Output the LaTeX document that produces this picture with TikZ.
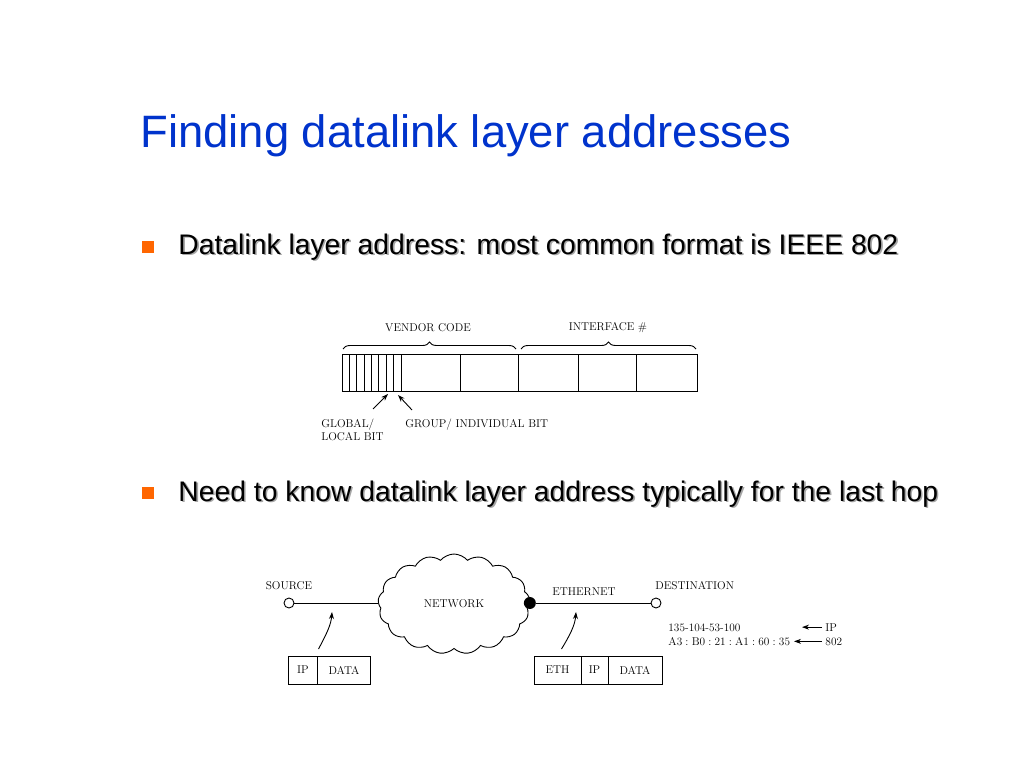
\documentclass[tikz,border=0pt]{standalone}
\usepackage{fontspec}
\newfontfamily\slidefont{Liberation Sans}
\usetikzlibrary{positioning,shapes.symbols,decorations.pathreplacing,arrows.meta}
\definecolor{titleblue}{RGB}{0,51,204}
\definecolor{bulletorange}{RGB}{255,102,0}
\newcommand\shtext[1]{\rlap{\color{black!35}\kern1.6pt\raisebox{-1.6pt}{#1}}#1}
\newcommand\sep{\kern3.2pt:\kern3.2pt}
\begin{document}
\begin{tikzpicture}[x=1pt,y=-1pt,
  line width=0.9pt,
  small/.style={font=\fontsize{11.3}{13}\selectfont,inner sep=0pt},
  bullet/.style={fill=bulletorange,minimum size=12pt,inner sep=0pt},
  bultext/.style={anchor=base west,inner sep=0pt,font=\slidefont\fontsize{28.3}{32}\selectfont},
  cell/.style={draw,minimum height=28pt,inner sep=0pt,outer sep=0pt,font=\fontsize{11.3}{13}\selectfont},
  port/.style={circle,draw,fill=white,minimum size=10pt,inner sep=0pt},
  tip/.style={-{Stealth[length=7pt,width=5pt]}}]
\useasboundingbox (0,0) rectangle (1024,768);
% title and bullets
\node[anchor=base west,inner sep=0pt,text=titleblue,font=\slidefont\fontsize{45.4}{50}\selectfont] (title) at (140,147) {Finding datalink layer addresses};
\node[bullet] (b1) at (148,247) {};
\node[bultext] (t1) at (178,254) {\shtext{Datalink layer address: most common format is IEEE 802}};
\node[bullet] (b2) at (148,493) {};
\node[bultext] (t2) at (178,501) {\shtext{Need to know datalink layer address typically for the last hop}};

% IEEE 802 address field
\draw (342,354) rectangle (697,391);
\foreach \x in {349.4,356.75,364.1,371.5,378.9,386.25,393.6,401,460,518,578,636}
  \draw (\x,354) -- (\x,391);
\draw[decorate,decoration={brace,amplitude=7pt}] (343,349) -- (516,349);
\draw[decorate,decoration={brace,amplitude=7pt}] (521,349) -- (696,349);
\node[small] (vendor) at (428,328) {VENDOR CODE};
\node[small] (iface) at (608,328) {INTERFACE \#};
\coordinate (glbit) at (388,394);
\coordinate (grbit) at (398,395);
\node[small,align=left,anchor=north west] (global) at (321,419) {GLOBAL/\\LOCAL BIT};
\node[small,anchor=north west] (group) at (405,419) {GROUP/ INDIVIDUAL BIT};
\draw[tip] (373,409) -- (glbit);
\draw[tip] (412,410) -- (grbit);

% network
\node[cloud,draw,cloud puffs=17,cloud puff arc=100,cloud ignores aspect,minimum width=152pt,minimum height=100pt,small] (net) at (454,604) {NETWORK};
\node[port] (src) at (289,603) {};
\node[small,anchor=south] (srclab) at (289,590) {SOURCE};
\node[circle,fill,minimum size=12pt,inner sep=0pt] (gw) at (net.east |- src) {};
\node[port] (dst) at (656,603) {};
\node[small,anchor=south west] (dstlab) at (655,590) {DESTINATION};
\draw (src) -- (src -| net.west);
\draw (gw) -- (dst);
\node[small,anchor=south] (eth) at (584,596) {ETHERNET};
\coordinate (srcline) at (332,612);
\coordinate (ethline) at (576,612);

% addresses of the destination
\node[small,anchor=base west] (ipaddr) at (668,631) {135-104-53-100};
\node[small,anchor=base west] (macaddr) at (668,645) {A3\sep B0\sep 21\sep A1\sep 60\sep 35};
\node[small,anchor=base west] (iplab) at (825,631) {IP};
\node[small,anchor=base west] (maclab) at (825,645) {802};
\draw[tip] (iplab.west) ++(-3,0) -- ++(-20,0);
\draw[tip] (maclab.west) ++(-3,0) -- ++(-28,0);

% packets
\node[cell,minimum width=29pt] (ip1) at (303,670) {IP};
\node[cell,minimum width=53pt,right=0pt of ip1] (data1) {DATA};
\node[cell,minimum width=47pt] (eth2) at (557.5,670) {ETH};
\node[cell,minimum width=27pt,right=0pt of eth2] (ip2) {IP};
\node[cell,minimum width=54pt,right=0pt of ip2] (data2) {DATA};
\draw[tip] (ip1.north east) ++(1,-7) .. controls (326,635) and (331,625) .. (srcline);
\draw[tip] (eth2.north) ++(4,-7) .. controls (570,635) and (575,625) .. (ethline);
\end{tikzpicture}
\end{document}
